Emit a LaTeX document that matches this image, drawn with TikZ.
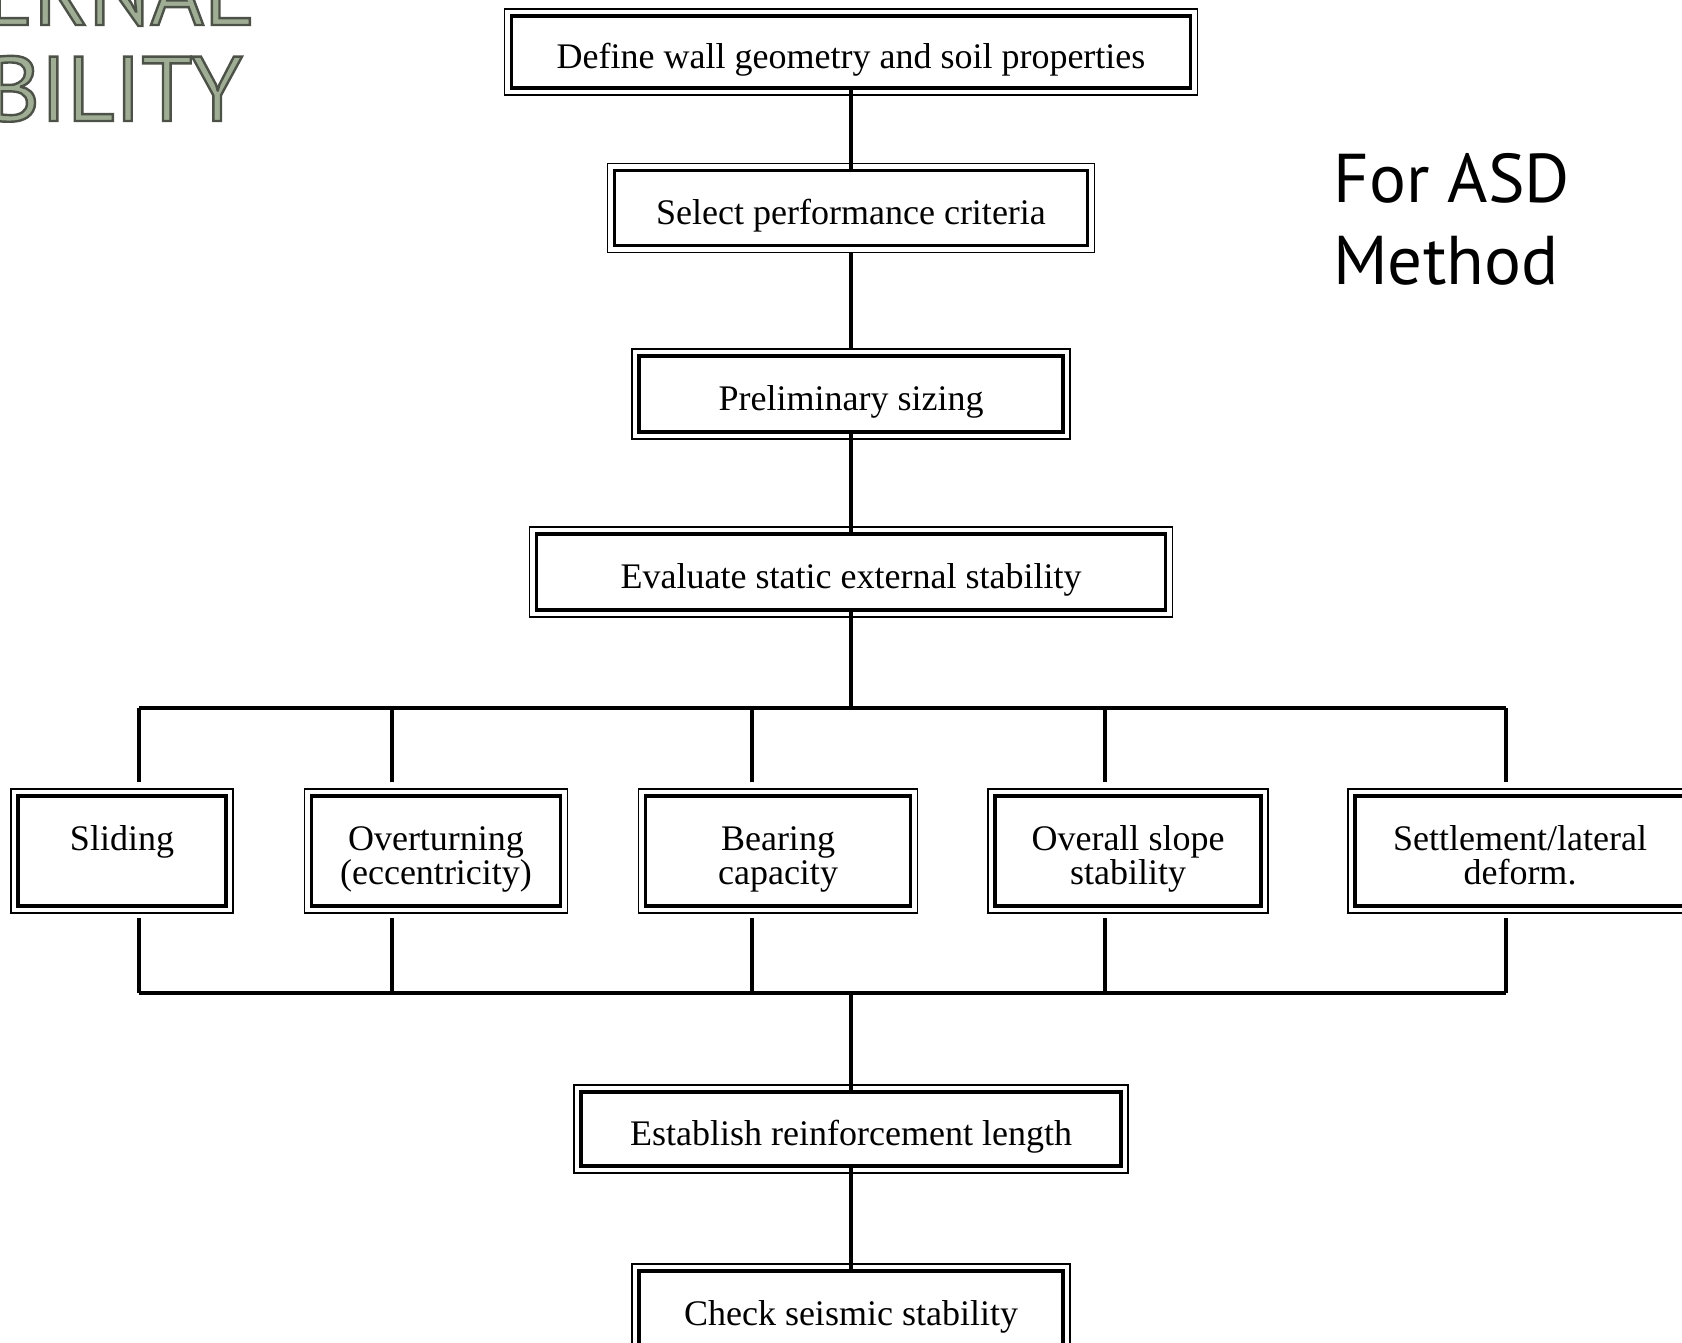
\documentclass[tikz,border=0pt]{standalone}
\usepackage{fontspec}
\setmainfont{Liberation Serif}
\newfontfamily\slidefont{PT Sans}
\usepackage{xcolor}
\definecolor{titlegreen}{HTML}{A0AD95}
\newcommand{\outlineon}{\special{pdf:literal direct 2 Tr 1.2 w 0.30 0.32 0.28 RG}}
\newcommand{\outlineoff}{\special{pdf:literal direct 0 Tr}}

\begin{document}
\begin{tikzpicture}[x=0.5pt,y=-0.5pt,
    stage/.style={draw,line width=1.8pt,inner sep=0pt,align=center,font=\fontsize{18}{17}\selectfont,
      text height=18.5pt,text depth=1.6pt},
    crit/.style={stage,minimum height=55pt,text height=35pt,text depth=1.1pt},
    frame/.style={line width=0.9pt},
    link/.style={line width=1.7pt},
    heading/.style={font=\slidefont\fontsize{46}{46}\selectfont,text=titlegreen,inner sep=0pt},
    slidetext/.style={font=\slidefont\fontsize{34.5}{41}\selectfont,align=left,inner sep=0pt}
]
\useasboundingbox (0,0) rectangle (1682,1343);
\clip (0,0) rectangle (1682,1343);

%%% Slide title (cut off at the left) and method note
\node[heading,anchor=base east] (titletop) at (252,25) {\outlineon ERNAL\outlineoff};
\node[heading,anchor=base east] (titlebot) at (243,121) {\outlineon BILITY\outlineoff};
\node[slidetext,anchor=base west] (method) at (1333,284) {For ASD\\Method};

%%% Main column
\node[stage,minimum width=339.5pt,minimum height=36pt] (define) at (851,52) {Define wall geometry and soil properties};
\node[stage,minimum width=236.5pt,minimum height=37.5pt] (select) at (851,208) {Select performance criteria};
\node[stage,minimum width=212pt,minimum height=38pt] (prelim) at (851,394) {Preliminary sizing};
\node[stage,minimum width=314.5pt,minimum height=38pt] (evaluate) at (851,572) {Evaluate static external stability};

% checks on one row, text set from the top
\node[crit,minimum width=104pt] (sliding) at (122,851) {Sliding\\\mbox{}};
\node[crit,minimum width=124.5pt] (overturn) at (436,851) {Overturning\\(eccentricity)};
\node[crit,minimum width=132.5pt] (bearing) at (778,851) {Bearing\\capacity};
\node[crit,minimum width=133pt] (slope) at (1128,851) {Overall slope\\stability};
\node[crit,minimum width=165pt] (settle) at (1520,851) {Settlement/lateral\\deform.};

\node[stage,minimum width=270pt,minimum height=37pt] (establish) at (851,1129) {Establish reinforcement length};
\node[stage,minimum width=212pt,minimum height=38pt] (seismic) at (851,1309) {Check seismic stability};

% thin outer frame of every box
\foreach \n in {define,select,prelim,evaluate,sliding,overturn,bearing,slope,settle,establish,seismic}
  \draw[frame] ([shift={(-2.6pt,2.6pt)}]\n.north west) rectangle ([shift={(2.6pt,-2.6pt)}]\n.south east);

%%% Connectors
\draw[link] (define) -- (select);
\draw[link,shorten <=3pt,shorten >=3pt] (select) -- (prelim);
\draw[link] (prelim) -- (evaluate);

\coordinate (topbus) at (851,708);
\coordinate (botbus) at (851,993);
\draw[link] (evaluate) -- (topbus);
\draw[link] (botbus) -- (establish);
\draw[link] (establish) -- (seismic);

% bus above and below the row of checks
\foreach \n/\x in {sliding/139,overturn/392,bearing/752,slope/1105,settle/1506} {
  \coordinate (top\n) at (\x,708);
  \coordinate (bot\n) at (\x,993);
  \draw[link,shorten >=6pt] (top\n) -- (top\n |- \n.north);
  \draw[link,shorten >=5pt] (bot\n) -- (bot\n |- \n.south);
}
\draw[link] (topsliding) -- (topsettle);
\draw[link] (botsliding) -- (botsettle);
\end{tikzpicture}
\end{document}
